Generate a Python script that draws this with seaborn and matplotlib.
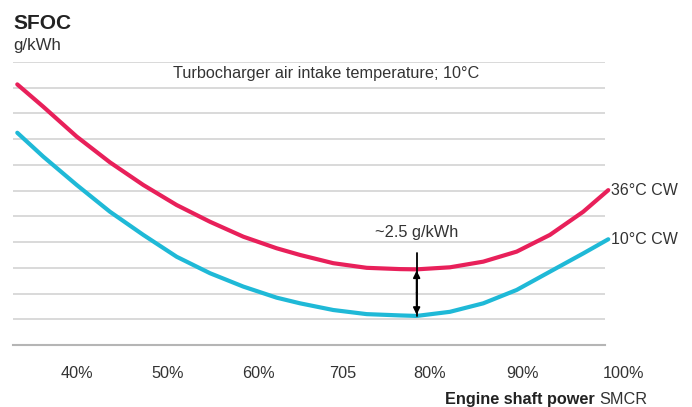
#!/usr/bin/env python3
"""SFOC vs engine shaft power for two cooling water temperatures."""

import matplotlib

matplotlib.use("Agg")

import matplotlib.pyplot as plt
import matplotlib.transforms as mtransforms
import numpy as np
import pandas as pd
import seaborn as sns

# 데이터 (y = grid units above the bottom line)
power = [33.44, 36.30, 39.97, 43.62, 47.28, 50.95, 54.61, 58.27, 61.93, 64.50,
         68.15, 71.82, 75.48, 77.31, 80.97, 84.63, 88.30, 91.95, 95.61, 98.36]
sfoc_36 = [10.13, 9.26, 8.10, 7.10, 6.22, 5.44, 4.79, 4.21, 3.76, 3.50,
           3.18, 3.00, 2.95, 2.94, 3.02, 3.24, 3.63, 4.28, 5.18, 6.02]
sfoc_10 = [8.25, 7.32, 6.22, 5.18, 4.28, 3.43, 2.79, 2.27, 1.84, 1.62,
           1.36, 1.20, 1.15, 1.13, 1.29, 1.62, 2.14, 2.85, 3.56, 4.11]
series_names = ["36°C CW", "10°C CW"]
series_colors = ["#e8205a", "#1fb9d7"]

tick_pos = [40, 50, 59.9, 69.2, 78.7, 88.9, 100]
tick_labels = ["40%", "50%", "60%", "705", "80%", "90%", "100%"]
n_grid = 12

df = pd.concat([
    pd.DataFrame({"power": power, "sfoc": sfoc_36, "series": series_names[0]}),
    pd.DataFrame({"power": power, "sfoc": sfoc_10, "series": series_names[1]}),
])

sns.set_theme(style="white")
plt.rcParams["font.family"] = ["Liberation Sans", "DejaVu Sans"]

W, H = 692, 407
fig = plt.figure(figsize=(W / 100, H / 100), dpi=100)
ax = fig.add_axes([13 / W, 62 / H, 592 / W, 283 / H])

sns.lineplot(
    data=df, x="power", y="sfoc", hue="series",
    palette=dict(zip(series_names, series_colors)),
    linewidth=3, sort=False, legend=False, ax=ax, clip_on=False,
    solid_joinstyle="round", solid_capstyle="round",
)

ax.set_xlim(32.97, 98.0)
ax.set_ylim(0, n_grid - 1)
ax.set_yticks(range(n_grid))
ax.set_xticks([])
ax.set_yticklabels([])
ax.grid(axis="y", color="#d0d0d0", linewidth=1.1)
for side in ["top", "left", "right"]:
    ax.spines[side].set_visible(False)
ax.spines["bottom"].set_color("#b5b5b5")
ax.spines["bottom"].set_linewidth(1.5)
ax.set_xlabel("")
ax.set_ylabel("")

# x tick labels (placed as text since 100% lies past the grid)
trans = mtransforms.blended_transform_factory(ax.transData, ax.transAxes)
for p, lab in zip(tick_pos, tick_labels):
    ax.text(p, -0.1, lab, transform=trans, ha="center", va="center",
            fontsize=11.7, color="#333333", clip_on=False)

# series labels at line ends
for vals, name in zip([sfoc_36, sfoc_10], series_names):
    ax.text(power[-1] + 0.3, vals[-1], name, ha="left", va="center",
            fontsize=11.5, color="#333333", clip_on=False)

# difference arrow at the minimum
i_min = int(np.argmin(sfoc_10))
x_a = power[i_min]
top, bot = sfoc_36[i_min], sfoc_10[i_min]
ax.plot([x_a, x_a], [top + 0.62, bot], color="black", linewidth=1.3)
for tip in [top - 0.05, bot + 0.05]:
    ax.annotate("", xy=(x_a, tip), xytext=(x_a, (top + bot) / 2),
                arrowprops=dict(arrowstyle="-|>", color="black", lw=1.3,
                                mutation_scale=10, shrinkA=0, shrinkB=0))
ax.text(x_a, top + 1.45, "~2.5 g/kWh", ha="center", va="center",
        fontsize=11.8, color="#333333")

ax.text(67.35, n_grid - 1.45, "Turbocharger air intake temperature; 10°C",
        ha="center", va="center", fontsize=11.7, color="#333333")

# titles
fig.text(13 / W, 1 - 29 / H, "SFOC", fontsize=15, fontweight="bold",
         color="#222222", va="baseline", ha="left")
fig.text(13 / W, 1 - 50 / H, "g/kWh", fontsize=12.2, color="#333333",
         va="baseline", ha="left")

# x axis title: bold part + regular part
fig.text(599 / W, 1 - 404 / H, "Engine shaft power ", fontsize=11.7,
         fontweight="bold", color="#222222", va="baseline", ha="right")
fig.text(599 / W, 1 - 404 / H, "SMCR", fontsize=11.7, color="#333333",
         va="baseline", ha="left")

fig.savefig("out.png", dpi=100)
